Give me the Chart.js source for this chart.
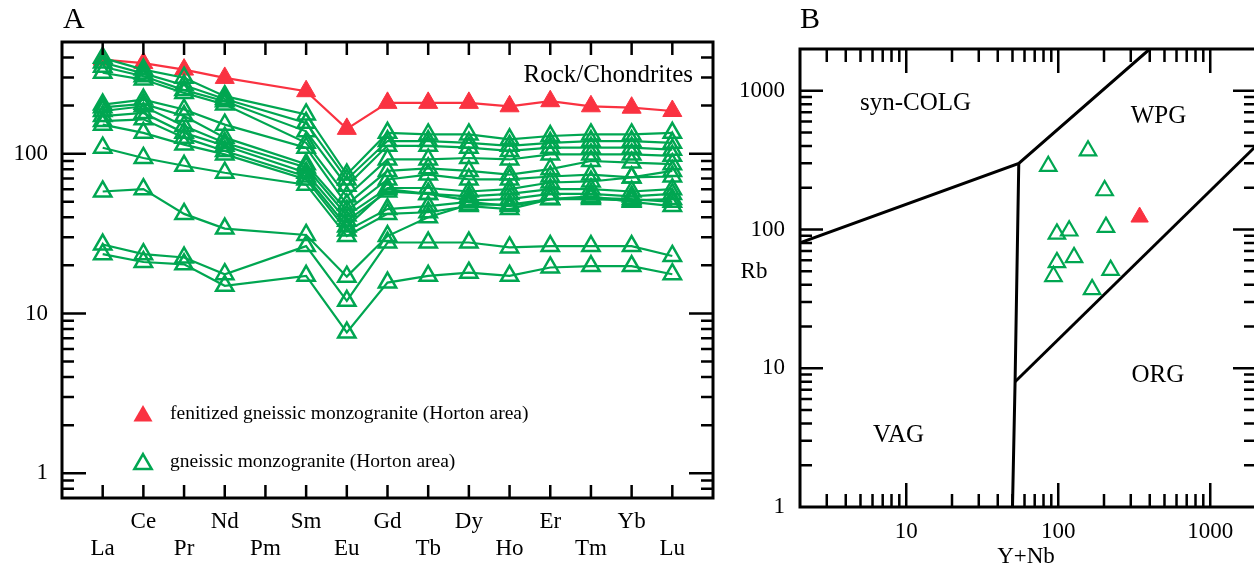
<!DOCTYPE html>
<html>
<head>
<meta charset="utf-8">
<script src="https://cdn.jsdelivr.net/npm/chart.js@4.4.0/dist/chart.umd.min.js"></script>
<style>
  html, body { margin: 0; padding: 0; background: #fff; overflow: hidden; }
  #wrap { position: relative; width: 1254px; height: 570px; overflow: hidden; }
  #boxA { position: absolute; left: 0; top: 0; width: 730px; height: 570px; }
  #boxB { position: absolute; left: 730px; top: 0; width: 540px; height: 570px; }
</style>
</head>
<body>
<div id="wrap">
  <div id="boxA"><canvas id="chartA"></canvas></div>
  <div id="boxB"><canvas id="chartB"></canvas></div>
</div>
<script>
// ---- panel A: chondrite-normalised REE ----
const elements = ['La', 'Ce', 'Pr', 'Nd', 'Pm', 'Sm', 'Eu', 'Gd', 'Tb', 'Dy', 'Ho', 'Er', 'Tm', 'Yb', 'Lu'];

const fenitizedREE = [388, 369, 336, 298, null, 246, 143, 208, 208, 208, 198, 213, 198, 194, 185];

const gm01 = [398, 336, 299, 229, null, 176, 74, 135, 132, 132, 123, 129, 132, 132, 135];
const gm02 = [372, 318, 268, 220, null, 156, 69, 120, 120, 117, 112, 117, 120, 120, 117];
const gm03 = [350, 305, 250, 213, null, 138, 63, 112, 112, 109, 104, 109, 109, 109, 106];
const gm04 = [321, 291, 240, 203, null, 117, 54, 92, 92, 94, 92, 99, 99, 99, 97];
const gm05 = [203, 218, 189, 152, null, 109, 48, 78, 81, 78, 74, 80, 90, 88, 86];
const gm06 = [195, 205, 172, 126, null, 86, 44, 69, 74, 69, 69, 72, 74, 71, 78];
const gm07 = [185, 198, 149, 117, null, 82, 41, 61, 61, 58, 60, 66, 67, 71, 72];
const gm08 = [172, 180, 135, 112, null, 76, 38, 58, 56, 54, 56, 60, 60, 58, 60];
const gm09 = [160, 164, 126, 104, null, 72, 35, 60, 56, 51, 52, 56, 56, 54, 56];
const gm10 = [152, 135, 114, 99, null, 69, 33, 45, 47, 50, 47, 52, 52, 51, 52];
const gm11 = [109, 94, 84, 76, null, 64, 30.5, 42, 43, 47, 45, 52, 54, 50, 47];
const gm12 = [58, 60, 42, 34, null, 31, 17, 30.5, 40, 48, 48, 52, 53, 52, 50];
const gm13 = [27, 23.5, 22.4, 17.6, null, 26.4, 12, 27.8, 27.8, 27.8, 25.9, 26.4, 26.4, 26.4, 22.9];
const gm14 = [23.5, 21, 20.3, 14.9, null, 17.2, 7.6, 15.6, 17.2, 18, 17.2, 19.4, 19.8, 19.8, 17.6];
const gneissicREE = [gm01, gm02, gm03, gm04, gm05, gm06, gm07, gm08, gm09, gm10, gm11, gm12, gm13, gm14];

// ---- panel B: Rb vs Y+Nb (Pearce et al. 1984) ----
const gneissicYNb = [86, 157, 202, 206, 98, 118, 98, 127, 93, 221, 167];
const gneissicRb = [286, 370, 191, 104, 93, 98, 58, 63, 46, 51, 37];
const fenitizedYNb = [343];
const fenitizedRb = [123];

const colgLine = [[2, 80], [55, 300], [400, 2000]];
const vagOrgLine = [[55, 300], [52, 8], [50, 1]];
const wpgOrgLine = [[52, 8], [2000, 400]];

const GREEN = 'rgb(0,166,81)';
const RED = 'rgb(250,50,65)';
const FONT = "'Liberation Serif', 'Times New Roman', serif";

Chart.defaults.font.family = FONT;
Chart.defaults.color = '#000';

const isPow10 = v => Math.abs(Math.log10(v) - Math.round(Math.log10(v))) < 1e-9;

function triangle(ctx, x, y, r, fill, color, lw) {
    ctx.beginPath();
    ctx.moveTo(x, y - r);
    ctx.lineTo(x + r * 0.866, y + r * 0.5);
    ctx.lineTo(x - r * 0.866, y + r * 0.5);
    ctx.closePath();
    if (fill) {
        ctx.fillStyle = color;
        ctx.fill();
    } else {
        ctx.strokeStyle = color;
        ctx.lineWidth = lw;
        ctx.stroke();
    }
}

// log minor/major ticks, inward, on both sides
function logTicks(ctx, scale, edgeA, edgeB, horizontal, major, minor) {
    for (let d = -1; d <= 4; d++) {
        for (let m = 1; m <= 9; m++) {
            const v = m * Math.pow(10, d);
            if (v <= scale.min * 1.0001 || v >= scale.max * 0.9999) continue;
            const p = scale.getPixelForValue(v);
            const len = m === 1 ? major : minor;
            if (horizontal) {
                ctx.moveTo(p, edgeA); ctx.lineTo(p, edgeA + len);
                ctx.moveTo(p, edgeB); ctx.lineTo(p, edgeB - len);
            } else {
                ctx.moveTo(edgeA, p); ctx.lineTo(edgeA + len, p);
                ctx.moveTo(edgeB, p); ctx.lineTo(edgeB - len, p);
            }
        }
    }
}

const decorA = {
    id: 'decorA',
    afterDraw(chart) {
        const { ctx, chartArea: a, scales: { x, y } } = chart;
        ctx.save();
        ctx.strokeStyle = '#000';
        ctx.lineWidth = 3;
        ctx.strokeRect(a.left, a.top, a.right - a.left, a.bottom - a.top);
        ctx.lineWidth = 2.5;
        ctx.beginPath();
        elements.forEach((e, i) => {
            const px = x.getPixelForValue(i);
            ctx.moveTo(px, a.top); ctx.lineTo(px, a.top + 13);
            ctx.moveTo(px, a.bottom); ctx.lineTo(px, a.bottom - 13);
        });
        logTicks(ctx, y, a.left, a.right, false, 24, 12);
        ctx.stroke();

        ctx.fillStyle = '#000';
        ctx.textBaseline = 'middle';
        ctx.font = '30px ' + FONT;
        ctx.textAlign = 'left';
        ctx.fillText('A', 63, 20);
        ctx.font = '25px ' + FONT;
        ctx.textAlign = 'right';
        ctx.fillText('Rock/Chondrites', a.right - 20, 75);

        // legend
        ctx.textAlign = 'left';
        ctx.font = '19.5px ' + FONT;
        triangle(ctx, 143, 416, 11, true, RED);
        ctx.fillStyle = '#000';
        ctx.fillText('fenitized gneissic monzogranite (Horton area)', 170, 414);
        triangle(ctx, 143, 464, 10, false, GREEN, 2.5);
        ctx.fillStyle = '#000';
        ctx.fillText('gneissic monzogranite (Horton area)', 170, 462);
        ctx.restore();
    }
};

const toPoints = arr => elements.map((e, i) => ({ x: i, y: arr[i] }));

const datasetsA = gneissicREE.map(s => ({
    data: toPoints(s),
    borderColor: GREEN,
    borderWidth: 2.2,
    pointStyle: 'triangle',
    pointRadius: 10,
    pointBorderWidth: 2.5,
    pointBorderColor: GREEN,
    pointBackgroundColor: 'rgba(0,0,0,0)',
    spanGaps: true,
    tension: 0,
}));
datasetsA.push({
    data: toPoints(fenitizedREE),
    borderColor: RED,
    borderWidth: 2.2,
    pointStyle: 'triangle',
    pointRadius: 11,
    pointBorderWidth: 1,
    pointBorderColor: RED,
    pointBackgroundColor: RED,
    spanGaps: true,
    tension: 0,
});

new Chart(document.getElementById('chartA'), {
    type: 'line',
    data: { datasets: datasetsA },
    options: {
        responsive: true,
        maintainAspectRatio: false,
        animation: false,
        events: [],
        layout: { padding: { top: 42, right: 17, left: 0, bottom: 0 } },
        plugins: { legend: { display: false }, tooltip: { enabled: false } },
        scales: {
            x: {
                type: 'linear',
                min: -1,
                max: 15,
                grid: { display: false, drawTicks: false },
                border: { display: false },
                afterBuildTicks: scale => { scale.ticks = elements.map((e, i) => ({ value: i })); },
                afterFit: scale => { scale.height = 72; },
                ticks: {
                    autoSkip: false,
                    maxRotation: 0,
                    padding: 10,
                    font: { size: 23, lineHeight: 1.18 },
                    callback: v => (v % 2 === 0 ? ['', elements[v]] : [elements[v], '']),
                },
            },
            y: {
                type: 'logarithmic',
                min: 0.708,
                max: 500,
                grid: { display: false, drawTicks: false },
                border: { display: false },
                afterFit: scale => { scale.width = 62; },
                ticks: {
                    autoSkip: false,
                    padding: 14,
                    font: { size: 23 },
                    callback: v => (isPow10(v) && v >= 1 ? String(v) : ''),
                },
            },
        },
    },
    plugins: [decorA],
});

// ---- panel B ----
const decorB = {
    id: 'decorB',
    afterDraw(chart) {
        const { ctx, chartArea: a, scales: { x, y } } = chart;
        ctx.save();
        ctx.strokeStyle = '#000';
        ctx.lineWidth = 3;
        ctx.strokeRect(a.left, a.top, a.right - a.left, a.bottom - a.top);
        ctx.lineWidth = 2.5;
        ctx.beginPath();
        logTicks(ctx, x, a.top, a.bottom, true, 24, 13);
        logTicks(ctx, y, a.left, a.right, false, 23, 12);
        ctx.stroke();

        ctx.fillStyle = '#000';
        ctx.textBaseline = 'middle';
        ctx.textAlign = 'left';
        ctx.font = '30px ' + FONT;
        ctx.fillText('B', 70, 20);
        ctx.textAlign = 'center';
        ctx.font = '23px ' + FONT;
        ctx.fillText('Rb', 24, 272);
        ctx.fillText('Y+Nb', (a.left + a.right) / 2 - 2, 557);
        ctx.font = '25px ' + FONT;
        [['syn-COLG', 11.5, 816], ['WPG', 457, 651], ['VAG', 8.9, 3.28], ['ORG', 452, 8.9]].forEach(([t, vx, vy]) => {
            ctx.fillText(t, x.getPixelForValue(vx), y.getPixelForValue(vy));
        });
        ctx.restore();
    }
};

const toXY = arr => arr.map(([px, py]) => ({ x: px, y: py }));
const boundary = pts => ({
    type: 'line',
    data: toXY(pts),
    showLine: true,
    borderColor: '#000',
    borderWidth: 3,
    pointRadius: 0,
    tension: 0,
});

new Chart(document.getElementById('chartB'), {
    type: 'scatter',
    data: {
        datasets: [
            {
                data: fenitizedYNb.map((v, i) => ({ x: v, y: fenitizedRb[i] })),
                pointStyle: 'triangle',
                pointRadius: 10,
                pointBorderWidth: 1,
                pointBorderColor: RED,
                pointBackgroundColor: RED,
            },
            {
                data: gneissicYNb.map((v, i) => ({ x: v, y: gneissicRb[i] })),
                pointStyle: 'triangle',
                pointRadius: 9.5,
                pointBorderWidth: 2.2,
                pointBorderColor: GREEN,
                pointBackgroundColor: 'rgba(0,0,0,0)',
            },
            boundary(colgLine),
            boundary(vagOrgLine),
            boundary(wpgOrgLine),
        ],
    },
    options: {
        responsive: true,
        maintainAspectRatio: false,
        animation: false,
        events: [],
        layout: { padding: { top: 49, right: 14, left: 0, bottom: 0 } },
        plugins: { legend: { display: false }, tooltip: { enabled: false } },
        scales: {
            x: {
                type: 'logarithmic',
                min: 2,
                max: 2000,
                grid: { display: false, drawTicks: false },
                border: { display: false },
                afterFit: scale => { scale.height = 63; },
                ticks: {
                    autoSkip: false,
                    maxRotation: 0,
                    padding: 11,
                    font: { size: 23 },
                    callback: v => (isPow10(v) ? String(v) : ''),
                },
            },
            y: {
                type: 'logarithmic',
                min: 1,
                max: 2000,
                grid: { display: false, drawTicks: false },
                border: { display: false },
                afterFit: scale => { scale.width = 70; },
                ticks: {
                    autoSkip: false,
                    padding: 15,
                    font: { size: 23 },
                    callback: v => (isPow10(v) ? String(v) : ''),
                },
            },
        },
    },
    plugins: [decorB],
});
</script>
</body>
</html>
